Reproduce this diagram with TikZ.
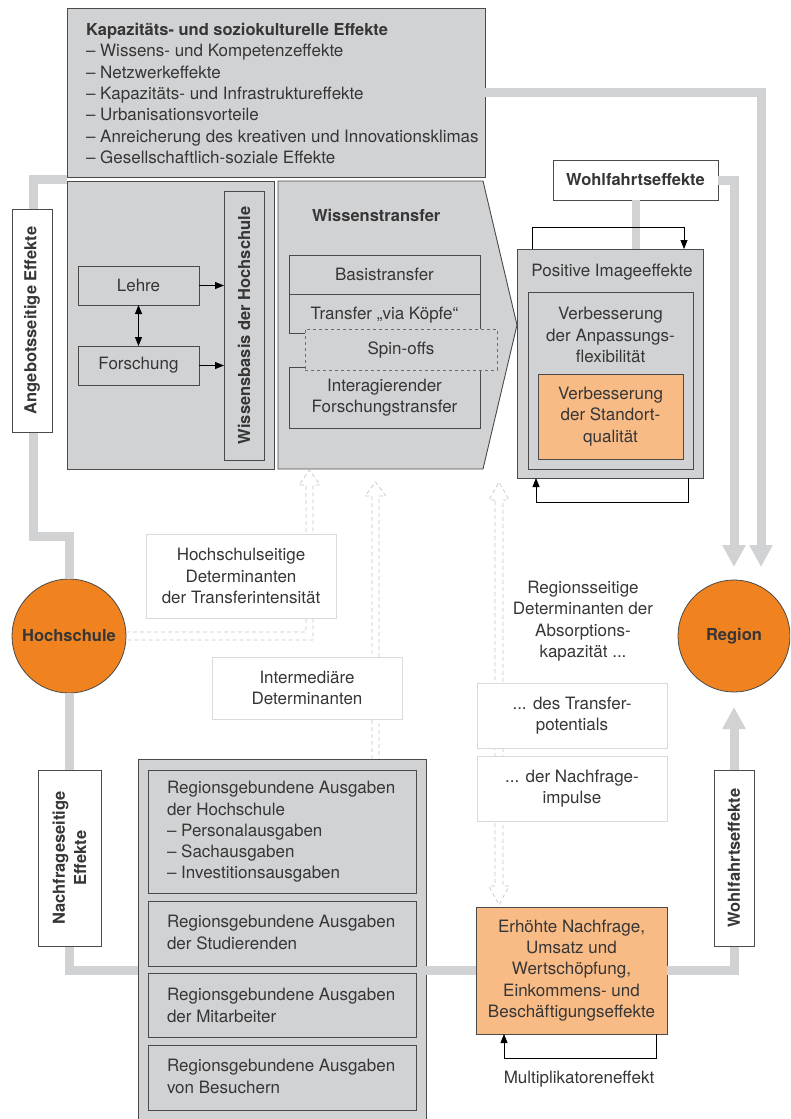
\documentclass[tikz,border=0pt]{standalone}
\usepackage{fontspec}
\setmainfont{TeX Gyre Heros}
\usetikzlibrary{arrows.meta}
\definecolor{boxgray}{HTML}{D1D2D4}
\definecolor{linegray}{HTML}{D1D2D4}
\definecolor{bordergray}{HTML}{4A4A4A}
\definecolor{lightborder}{HTML}{DADADA}
\definecolor{dashgray}{HTML}{C6C6C6}
\definecolor{orangeA}{HTML}{F08320}
\definecolor{orangeB}{HTML}{F8BB86}
\definecolor{txt}{HTML}{363636}
\tikzset{
  every node/.style={font=\fontsize{17}{21.3}\selectfont, text=txt},
  bfnode/.style={font=\fontsize{16.5}{21.3}\selectfont\bfseries},
  gbox/.style={draw=bordergray, fill=boxgray, line width=0.9pt, inner sep=0pt, outer sep=0pt, align=center},
  obox/.style={gbox, fill=orangeB},
  wbox/.style={draw=lightborder, fill=white, line width=0.9pt, inner sep=0pt, outer sep=0pt, align=center},
  bbox/.style={draw=bordergray, fill=white, line width=0.9pt, inner sep=0pt, outer sep=0pt, align=center, bfnode},
  circ/.style={circle, draw=bordergray, fill=orangeA, line width=0.8pt, inner sep=0pt, outer sep=0pt, bfnode},
  sz/.style 2 args={minimum width=#1pt, minimum height=#2pt},
  txtnode/.style={inner sep=0pt, outer sep=0pt, align=left, anchor=west},
  ctxt/.style={inner sep=0pt, outer sep=0pt, align=center},
  fillgray/.style={draw=bordergray, fill=boxgray, line width=0.9pt},
  gline/.style={draw=linegray, line width=9pt},
  garrow/.style={gline, -{Triangle[width=22pt,length=22pt]}},
  tarrow/.style={draw=black, line width=0.8pt, -{Triangle[width=7pt,length=9pt]}},
  dline/.style={draw=dashgray, line width=0.7pt, dash pattern=on 4pt off 3pt},
}
\begin{document}
\begin{tikzpicture}[x=1pt,y=-1pt]
\useasboundingbox (0,0) rectangle (790,1119);
\clip (0,0) rectangle (790,1119);

% ---------- circles and dashed hollow arrows ----------
\node[circ, minimum size=114pt] (hs) at (69,636) {Hochschule};
\node[circ, minimum size=112pt] (rg) at (734,636) {Region};

\draw[dline] ([yshift=4pt]hs.east) -- (306,632) -- (306,485) -- (299,485) -- (309.5,470)
   -- (320,485) -- (313,485) -- (313,640) -- ([yshift=-4pt]hs.east);
\draw[dline] (372,759) -- (372,496) -- (365,496) -- (375.5,482) -- (386,496) -- (379,496) -- (379,759);
\draw[dline] (495,500) -- (489,500) -- (499,482) -- (509,500) -- (503,500) -- (503,886)
   -- (509,886) -- (499,905) -- (489,886) -- (495,886) -- cycle;

% ---------- top block ----------
\node[gbox, sz={418}{169}] (top) at (276,92.5) {};
\node[txtnode] (toptxt) at (86,93.5) {\textbf{\fontsize{16.5}{21.3}\selectfont Kapazitäts- und soziokulturelle Effekte}\\
– Wissens- und Kompetenzeffekte\\
– Netzwerkeffekte\\
– Kapazitäts- und Infrastruktureffekte\\
– Urbanisationsvorteile\\
– Anreicherung des kreativen und Innovationsklimas\\
– Gesellschaftlich-soziale Effekte};

% ---------- gray thick connectors ----------
\coordinate (rt) at (761,567);
\draw[garrow] (top.east) -| (rt);
\draw[gline] (67,179) -- (33,179) -- (33,536) -- (69,536) -- (hs.north);

% left lower box
\node[gbox, sz={207}{288}] (lb) at (170.5,325) {};
\node[gbox, sz={121}{39}] (le) at (138.5,285.5) {Lehre};
\node[gbox, sz={121}{39}] (fo) at (138.5,365.5) {Forschung};
\node[gbox, bfnode, rotate=90, sz={269}{40}] (wb) at (244,325.5) {Wissensbasis der Hochschule};
\draw[tarrow] (le.east) -- (le.east -| wb.north);
\draw[tarrow] (fo.east) -- (fo.east -| wb.north);
\draw[tarrow, {Triangle[width=7pt,length=9pt]}-{Triangle[width=7pt,length=9pt]}] (le.south) -- (fo.north);

% Wissenstransfer pentagon
\draw[fillgray] (278,181) -- (483,181) -- (517,325) -- (483,469) -- (278,469) -- cycle;
\node[txtnode, bfnode] (wt) at (312,215) {Wissenstransfer};
\node[gbox, sz={191}{39}] (bt) at (384.5,274.5) {Basistransfer};
\node[gbox, sz={191}{39}, text depth=0pt] (tk) at (384.5,313.5) {Transfer „via Köpfe“};
\node[gbox, sz={191}{61}] (it) at (384.5,397.5) {Interagierender\\Forschungstransfer};
\node[gbox, dashed, draw=bordergray!80, sz={192}{41}] (so) at (401,349.5) {Spin-offs};

% Angebotsseitige
\node[bbox, rotate=90, sz={223}{40}] (ang) at (32,320.5) {Angebotsseitige Effekte};

% ---------- right top ----------
\node[bbox, sz={165}{40}] (wf) at (635.5,180) {Wohlfahrtseffekte};
\node[gbox, sz={186}{229}] (img) at (610,363.5) {};
\draw[gline, line width=8pt] (wf.south) -- (wf.south |- img.north);
\draw[garrow] (wf.east) -| ([yshift=13pt]rg.north);
\node[ctxt] (pi) at (612,272) {Positive Imageeffekte};
\node[gbox, sz={165}{177}] (inb) at (610.5,380.5) {};
\node[ctxt] (vat) at (610.5,335) {Verbesserung\\der Anpassungs-\\flexibilität};
\node[obox, sz={145}{85}] (vs) at (610.5,416.5) {Verbesserung\\der Standort-\\qualität};
\draw[tarrow] ([xshift=15pt]img.north west) |- ([xshift=-19pt,yshift=22pt]img.north east) -- ([xshift=-19pt]img.north east);
\draw[tarrow] ([xshift=-15pt]img.south east) |- ([xshift=19pt,yshift=-24pt]img.south west) -- ([xshift=19pt]img.south west);

% ---------- middle determinants ----------
\node[wbox, sz={190}{84}] (hsd) at (241,576) {Hochschulseitige\\Determinanten\\der Transferintensität};
\node[wbox, sz={190}{62}] (imd) at (307,688) {Intermediäre\\Determinanten};
\node[ctxt] (rsd) at (583,621) {Regionsseitige\\Determinanten der\\Absorptions-\\kapazität ...};
\node[wbox, sz={190}{65}] (dtp) at (572,715.5) {... des Transfer-\\potentials};
\node[wbox, sz={190}{65}] (dni) at (572,788.5) {... der Nachfrage-\\impulse};

% ---------- bottom ----------
\node[gbox, sz={288}{366}] (bb) at (282,942) {};
\node[gbox, sz={268}{123}] (b1) at (282,831.5) {};
\node[txtnode] (b1t) at (167,832) {Regionsgebundene Ausgaben\\der Hochschule\\– Personalausgaben\\– Sachausgaben\\– Investitionsausgaben};
\node[gbox, sz={268}{65}] (b2) at (282,933.5) {};
\node[txtnode] (b2t) at (167,932.5) {Regionsgebundene Ausgaben\\der Studierenden};
\node[gbox, sz={268}{64}] (b3) at (282,1005) {};
\node[txtnode] (b3t) at (167,1005.5) {Regionsgebundene Ausgaben\\der Mitarbeiter};
\node[gbox, sz={268}{65}] (b4) at (282,1077.5) {};
\node[txtnode] (b4t) at (167,1076.5) {Regionsgebundene Ausgaben\\von Besuchern};

\node[obox, sz={191}{127}] (er) at (571.5,970.5) {Erhöhte Nachfrage,\\Umsatz und\\Wertschöpfung,\\Einkommens- und\\Beschäftigungseffekte};
\draw[tarrow] ([xshift=-11pt]er.south east) |- ([xshift=28pt,yshift=-24pt]er.south west) -- ([xshift=28pt]er.south west);
\node[ctxt] (mul) at (579,1079) {Multiplikatoreneffekt};

\draw[gline] (hs.south) |- (bb.west |- er.west);
\draw[gline] (bb.east |- er.west) -- (er.west);
\draw[garrow] (er.east) -| ([yshift=-15pt]rg.south);

\node[bbox, rotate=90, sz={176}{63}] (nfe) at (69.5,858) {Nachfrageseitige\\Effekte};
\node[bbox, rotate=90, sz={176}{40}] (wfe) at (734,858) {Wohlfahrtseffekte};
\end{tikzpicture}
\end{document}
